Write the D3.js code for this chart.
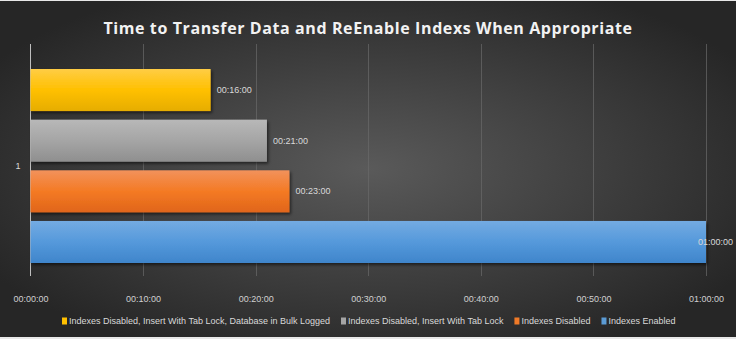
<!DOCTYPE html>
<html><head><meta charset="utf-8">
<script src="https://cdn.jsdelivr.net/npm/d3@7"></script>
<style>
html,body{margin:0;padding:0;background:#fff;}
svg{display:block;}
</style></head>
<body>
<script>
const title = "Time to Transfer Data and ReEnable Indexs When Appropriate";
const category = "1";
const seriesNames = [
  "Indexes Disabled, Insert With Tab Lock, Database in Bulk Logged",
  "Indexes Disabled, Insert With Tab Lock",
  "Indexes Disabled",
  "Indexes Enabled"
];
const seriesSeconds = [960, 1260, 1380, 3600];
const seriesColors = ["#ffc000", "#a5a5a5", "#f07a28", "#5b9bd5"];
const tickSeconds = [0, 600, 1200, 1800, 2400, 3000, 3600];

const W = 736, H = 339;
const FONT = "'Liberation Sans','DejaVu Sans',sans-serif";
const svg = d3.select("body").append("svg").attr("width", W).attr("height", H);
const defs = svg.append("defs");

const bg = defs.append("radialGradient").attr("id","bg").attr("cx","50%").attr("cy","50%").attr("r","60%");
bg.append("stop").attr("offset","0%").attr("stop-color","#5a5a5a");
bg.append("stop").attr("offset","100%").attr("stop-color","#262626");

svg.append("rect").attr("width",W).attr("height",H).attr("fill","#e8e8e8");
svg.append("rect").attr("x",0).attr("y",1).attr("width",W).attr("height",H-3).attr("fill","url(#bg)");

const shades = [
  ["#ffcd45","#ffc000","#e6ad00"],
  ["#b8b8b8","#a5a5a5","#8f8f8f"],
  ["#f2925c","#f47a24","#e0651a"],
  ["#74abe2","#5599db","#3f85cb"]
];
shades.forEach((s,i)=>{
  const g = defs.append("linearGradient").attr("id","g"+i).attr("x1","0").attr("y1","0").attr("x2","0").attr("y2","1");
  g.append("stop").attr("offset","0%").attr("stop-color",s[0]);
  g.append("stop").attr("offset","50%").attr("stop-color",s[1]);
  g.append("stop").attr("offset","100%").attr("stop-color",s[2]);
});
const f = defs.append("filter").attr("id","sh").attr("x","-5%").attr("y","-20%").attr("width","115%").attr("height","150%");
f.append("feDropShadow").attr("dx",1.5).attr("dy",2).attr("stdDeviation",1.5).attr("flood-color","#000").attr("flood-opacity",0.55);

const x = d3.scaleLinear().domain([0,3600]).range([30.5,706]);
const y = d3.scaleBand().domain(seriesNames).range([64.7,267.3]).paddingInner(0.17).paddingOuter(0.085);
const plotTop = 44, plotBottom = 276;

const fmt = s => {
  const h = Math.floor(s/3600), m = Math.floor((s%3600)/60), sec = s%60;
  return [h,m,sec].map(v=>String(v).padStart(2,"0")).join(":");
};

// gridlines
svg.append("g").selectAll("line").data(tickSeconds.slice(1)).join("line")
  .attr("x1",d=>Math.round(x(d))+0.5).attr("x2",d=>Math.round(x(d))+0.5)
  .attr("y1",plotTop).attr("y2",plotBottom)
  .attr("stroke","#6a6a6a").attr("stroke-width",1).attr("stroke-opacity",0.7);

// axis
const axis = d3.axisBottom(x).tickValues(tickSeconds).tickFormat(fmt).tickSize(0).tickPadding(0);
const ax = svg.append("g").attr("transform",`translate(0,${plotBottom})`).call(axis);
ax.select(".domain").remove();
ax.selectAll("text").attr("dy",0).attr("y",26)
  .attr("fill","#d0d0d0").style("font-family",FONT).style("font-size","9px");

// vertical axis line
svg.append("line").attr("x1",30.5).attr("x2",30.5).attr("y1",plotTop).attr("y2",plotBottom)
  .attr("stroke","#bfbfbf").attr("stroke-width",1);

// bars
svg.append("g").selectAll("rect").data(seriesNames).join("rect")
  .attr("x",x(0)).attr("y",d=>y(d)).attr("width",(d,i)=>x(seriesSeconds[i])-x(0))
  .attr("height",y.bandwidth()).attr("fill",(d,i)=>`url(#g${i})`).attr("filter","url(#sh)");

// data labels
svg.append("g").selectAll("text").data(seriesNames).join("text")
  .attr("x",(d,i)=>Math.min(x(seriesSeconds[i])+6, W-38))
  .attr("y",d=>y(d)+y.bandwidth()/2).attr("dy","0.35em")
  .attr("fill","#d9d9d9").style("font-family",FONT).style("font-size","9px")
  .text((d,i)=>fmt(seriesSeconds[i]));

// category label
svg.append("text").attr("x",18).attr("y",(y(seriesNames[0])+y(seriesNames[3])+y.bandwidth())/2).attr("dy","0.35em")
  .attr("text-anchor","middle").attr("fill","#d9d9d9")
  .style("font-family",FONT).style("font-size","9px").text(category);

// title
svg.append("text").attr("x",368).attr("y",34).attr("text-anchor","middle")
  .attr("fill","#f2f2f2").style("font-family","'Open Sans',sans-serif").style("font-weight","bold").style("font-size","16px")
  .style("letter-spacing","0.6px").text(title);

// legend
const lg = svg.append("g").attr("transform","translate(0,321)");
let cx = 0;
const items = [];
seriesNames.forEach((d,i)=>{
  const g = lg.append("g").attr("transform",`translate(${cx},0)`);
  g.append("rect").attr("x",0).attr("y",-3.5).attr("width",5).attr("height",7).attr("fill",seriesColors[i]);
  const t = g.append("text").attr("x",7).attr("y",0).attr("dy","0.35em").attr("fill","#d9d9d9")
    .style("font-family",FONT).style("font-size","9px").text(d);
  cx += 7 + t.node().getComputedTextLength() + 11;
});
const total = cx - 11;
lg.attr("transform",`translate(${Math.round(369 - total/2)},321)`);
</script>
</body></html>
